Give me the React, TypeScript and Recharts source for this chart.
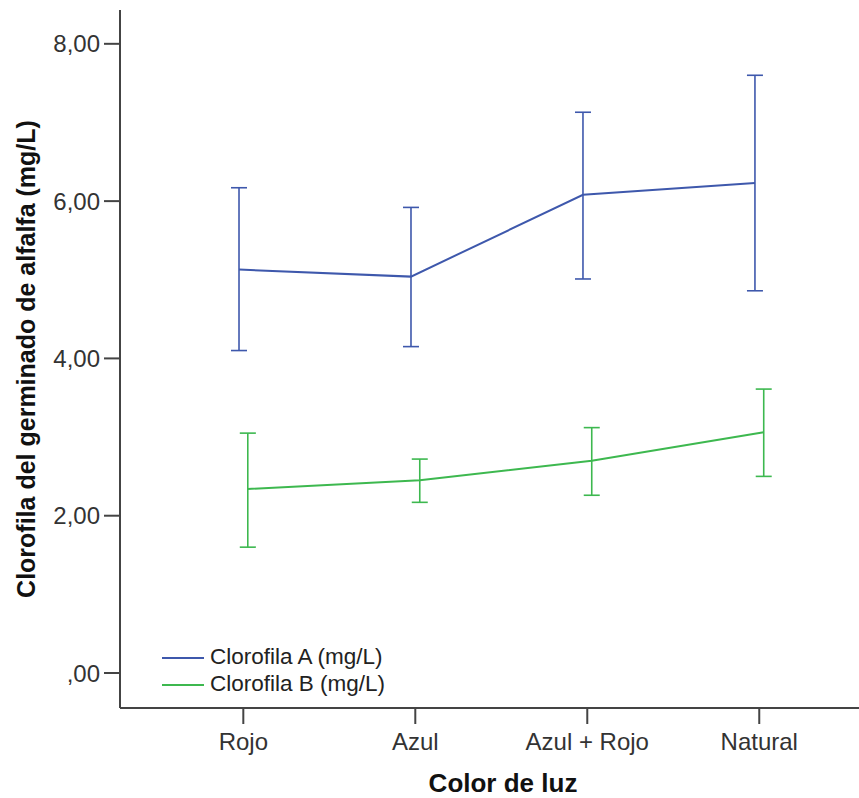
import { LineChart, Line, XAxis, YAxis, ErrorBar, Legend, Label } from 'recharts'

const categories = ['Rojo', 'Azul', 'Azul + Rojo', 'Natural']

// Clorofila A (mg/L): media y límites del intervalo
const meanA = [5.13, 5.04, 6.08, 6.23]
const lowA = [4.1, 4.15, 5.01, 4.86]
const highA = [6.17, 5.92, 7.13, 7.6]

// Clorofila B (mg/L)
const meanB = [2.34, 2.45, 2.7, 3.06]
const lowB = [1.6, 2.17, 2.26, 2.5]
const highB = [3.05, 2.72, 3.12, 3.61]

const yTicks = [0, 2, 4, 6, 8]
const xTicks = [0, 1, 2, 3]

const BLUE = '#3E58AC'
const GREEN = '#3DB84F'
const FONT = 'Arial, "Liberation Sans", sans-serif'

// SPSS dodges the two series a little around each category
const build = (mean: number[], low: number[], high: number[], shift: number) =>
  mean.map((m, i) => ({
    x: i + shift,
    mean: m,
    err: [m - low[i], high[i] - m],
  }))

const dataA = build(meanA, lowA, highA, -0.025)
const dataB = build(meanB, lowB, highB, 0.026)

const fmtY = (v: number) => (v === 0 ? ',00' : v.toFixed(2).replace('.', ','))

function LegendBox(props: any) {
  const items = props.payload || []
  return (
    <div style={{ fontFamily: FONT, fontSize: 22.5, color: '#222', lineHeight: 1 }}>
      {items.map((it: any) => (
        <div key={it.value} style={{ display: 'flex', alignItems: 'center', height: 27 }}>
          <span style={{ display: 'inline-block', width: 42, height: 2, background: it.color, marginRight: 6 }} />
          <span>{it.value}</span>
        </div>
      ))}
    </div>
  )
}

function YTitle(props: any) {
  const { viewBox } = props
  const cy = viewBox.y + viewBox.height / 2
  return (
    <text
      x={35}
      y={cy}
      transform={`rotate(-90, 35, ${cy})`}
      textAnchor="middle"
      fontFamily={FONT}
      fontSize={25}
      fontWeight={700}
      fill="#111"
    >
      Clorofila del germinado de alfalfa (mg/L)
    </text>
  )
}

function XTitle(props: any) {
  const { viewBox } = props
  return (
    <text
      x={503}
      y={viewBox.y + 84}
      textAnchor="middle"
      fontFamily={FONT}
      fontSize={26}
      fontWeight={700}
      fill="#111"
    >
      Color de luz
    </text>
  )
}

export default function App() {
  return (
    <div style={{ position: 'absolute', left: 0, top: 0, background: '#fff' }}>
      <LineChart width={859} height={798} margin={{ top: 10, right: 0, bottom: 0, left: 0 }}>
        <XAxis
          dataKey="x"
          type="number"
          domain={[-0.717, 3.58]}
          allowDataOverflow
          ticks={xTicks}
          tickFormatter={(i: number) => categories[i]}
          height={90}
          tickSize={16}
          tickMargin={9}
          tick={{ fontSize: 24, fill: '#333', fontFamily: FONT }}
          axisLine={{ stroke: '#444', strokeWidth: 2 }}
          tickLine={{ stroke: '#444', strokeWidth: 2 }}
        >
          <Label content={XTitle} />
        </XAxis>
        <YAxis
          type="number"
          domain={[-0.445, 8.43]}
          allowDataOverflow
          ticks={yTicks}
          tickFormatter={fmtY}
          width={120}
          tickSize={16}
          tickMargin={4}
          tick={{ fontSize: 24, fill: '#333', fontFamily: FONT }}
          axisLine={{ stroke: '#444', strokeWidth: 2 }}
          tickLine={{ stroke: '#444', strokeWidth: 2 }}
        >
          <Label content={YTitle} />
        </YAxis>
        <Legend
          content={LegendBox}
          layout="vertical"
          align="center"
          verticalAlign="middle"
          wrapperStyle={{ position: 'absolute', left: 162, top: 644, width: 260 }}
        />
        <Line
          data={dataA}
          dataKey="mean"
          name="Clorofila A (mg/L)"
          stroke={BLUE}
          strokeWidth={2}
          dot={false}
          activeDot={false}
          isAnimationActive={false}
        >
          <ErrorBar dataKey="err" direction="y" width={8} stroke={BLUE} strokeWidth={1.6} isAnimationActive={false} />
        </Line>
        <Line
          data={dataB}
          dataKey="mean"
          name="Clorofila B (mg/L)"
          stroke={GREEN}
          strokeWidth={2}
          dot={false}
          activeDot={false}
          isAnimationActive={false}
        >
          <ErrorBar dataKey="err" direction="y" width={8} stroke={GREEN} strokeWidth={1.6} isAnimationActive={false} />
        </Line>
      </LineChart>
    </div>
  )
}
